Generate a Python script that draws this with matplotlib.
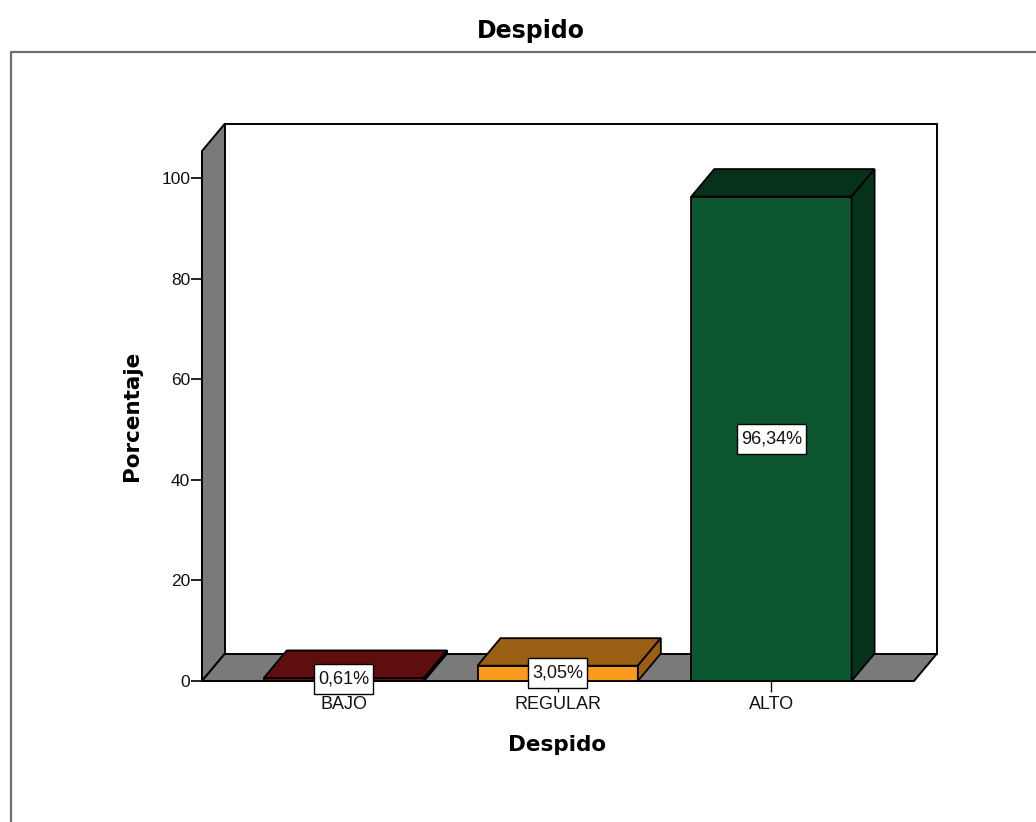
import matplotlib
matplotlib.use("Agg")
import matplotlib.pyplot as plt
from matplotlib.lines import Line2D
from matplotlib.patches import Rectangle
from matplotlib.transforms import IdentityTransform

plt.rcParams['font.family'] = ['Liberation Sans', 'DejaVu Sans']

# data
categories = ["BAJO", "REGULAR", "ALTO"]
values = [0.61, 3.05, 96.34]
labels = ["0,61%", "3,05%", "96,34%"]
yticks = [0, 20, 40, 60, 80, 100]

front_colors = ["#6a0c10", "#f99b1f", "#0c5630"]
top_colors = ["#5f0e10", "#9a5f12", "#07321a"]
side_colors = ["#4a090c", "#9a5f12", "#07321a"]
wall_color = "#7a7a7a"

W, H = 1036, 822
fig = plt.figure(figsize=(W / 100, H / 100), dpi=100)

# axes is the front plane of the 3d box
left, right, bottom, top = 202, 914, 681, 151
ax = fig.add_axes([left / W, 1 - bottom / H, (right - left) / W, (bottom - top) / H])

bar_width = 0.75
ax.set_xlim(-0.664, 2.667)
ax.set_ylim(0, 105.4)
xmin, xmax = ax.get_xlim()
ymax = ax.get_ylim()[1]

# depth of the fake 3d
dx = 23 / 213.7
dy = 27.5 / 5.03

# walls
ax.fill([xmin, xmin + dx, xmin + dx, xmin], [0, dy, ymax + dy, ymax],
        facecolor=wall_color, edgecolor="black", lw=1.4, clip_on=False, zorder=1)
ax.fill([xmin, xmin + dx, xmax + dx, xmax], [0, dy, dy, 0],
        facecolor=wall_color, edgecolor="black", lw=1.4, clip_on=False, zorder=1)
ax.fill([xmin + dx, xmax + dx, xmax + dx, xmin + dx], [dy, dy, ymax + dy, ymax + dy],
        facecolor="white", edgecolor="black", lw=1.4, clip_on=False, zorder=1)

# bars
for i in range(len(values)):
    x0 = i - bar_width / 2
    x1 = i + bar_width / 2
    v = values[i]
    ax.fill([x0, x1, x1, x0], [0, 0, v, v], facecolor=front_colors[i],
            edgecolor="black", lw=1.3, clip_on=False, zorder=3)
    ax.fill([x0, x0 + dx, x1 + dx, x1], [v, v + dy, v + dy, v], facecolor=top_colors[i],
            edgecolor="black", lw=1.3, clip_on=False, zorder=3)
    ax.fill([x1, x1 + dx, x1 + dx, x1], [0, dy, v + dy, v], facecolor=side_colors[i],
            edgecolor="black", lw=1.3, clip_on=False, zorder=3)

for s in ax.spines.values():
    s.set_visible(False)
ax.patch.set_visible(False)

ax.set_xticks(range(len(categories)))
ax.set_xticklabels(categories, fontsize=13, color="#222222")
ax.set_yticks(yticks)
ax.tick_params(axis="y", labelsize=12.5, length=8, width=1.3, pad=0.5, colors="#111111")
ax.tick_params(axis="x", length=8, width=1.0, pad=3, colors="#111111")

# value labels, box size set in pixels around the text
renderer = fig.canvas.get_renderer()
for i in range(len(values)):
    t = ax.text(i, values[i] / 2, labels[i], ha="center", va="center", fontsize=13,
                color="#111111", zorder=6, clip_on=False)
    ext = t.get_window_extent(renderer)
    cy = (ext.y0 + ext.y1) / 2
    ax.add_patch(Rectangle((ext.x0 - 4, cy - 15), ext.width + 8, 30, transform=IdentityTransform(),
                           facecolor="white", edgecolor="black", lw=1.0, zorder=5, clip_on=False))

# titles
fig.text(531 / W, 1 - 31 / H, "Despido", ha="center", va="center", fontsize=17,
         fontweight="bold", family="DejaVu Sans")
fig.text(557 / W, 1 - 745 / H, "Despido", ha="center", va="center", fontsize=15.5,
         fontweight="bold", family="DejaVu Sans")
fig.text(132 / W, 1 - 416 / H, "Porcentaje", ha="center", va="center", rotation=90,
         fontsize=15.5, fontweight="bold", family="DejaVu Sans")

# outer frame, runs off the right and bottom of the image
fig.add_artist(Line2D([11 / W, 11 / W, 1], [0, 1 - 52 / H, 1 - 52 / H], color="#707070", lw=1.6))

fig.savefig("out.png", dpi=100)
